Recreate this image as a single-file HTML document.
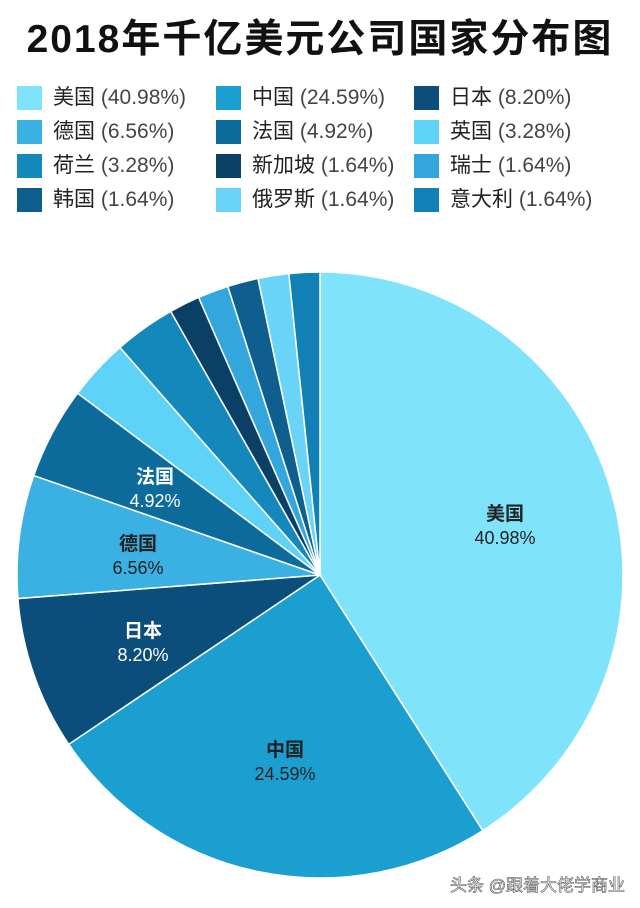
<!DOCTYPE html>
<html><head><meta charset="utf-8"><style>
body{margin:0;width:640px;height:908px;background:#fff;overflow:hidden;font-family:"Liberation Sans","Noto Sans CJK SC",sans-serif;position:relative}
.t{position:absolute;left:0;top:16px;width:640px;text-align:center;font-size:39px;line-height:48px;font-weight:bold;color:#111;letter-spacing:2px}
.lg{position:absolute;font-size:21px;color:#222;height:26px;line-height:26px;white-space:nowrap}
.lg i{position:absolute;left:0;top:1px;width:25px;height:24px}
.lg span{position:absolute;left:36px}
.lg em{font-style:normal;color:#444}
</style></head><body>
<div class="t">2018年千亿美元公司国家分布图</div>
<div id="L"></div>
<svg width="640" height="908" style="position:absolute;left:0;top:0" id="S"></svg>
<script>
var d=[["美国",40.98,"#7fe3fb"],["中国",24.59,"#1b9fd1"],["日本",8.20,"#0b4e7b"],["德国",6.56,"#3ab0e3"],["法国",4.92,"#0d6b9c"],["英国",3.28,"#5fd3f7"],["荷兰",3.28,"#1488bb"],["新加坡",1.64,"#0a3f66"],["瑞士",1.64,"#33a7dd"],["韩国",1.64,"#0e5f8e"],["俄罗斯",1.64,"#6ad4f8"],["意大利",1.64,"#1180b6"]];
var L=document.getElementById("L"),h="";
var cx=[17,216,414],ry=[85,119,153,187];
d.forEach(function(e,i){h+='<div class="lg" style="left:'+cx[i%3]+'px;top:'+ry[Math.floor(i/3)]+'px"><i style="background:'+e[2]+'"></i><span>'+e[0]+' <em>('+e[1].toFixed(2)+'%)</em></span></div>';});
L.innerHTML=h;
var s="",a=0,X=320,Y=575,R=303,tot=0;d.forEach(function(e){tot+=e[1]});
d.forEach(function(e){var b=a+e[1]/tot*2*Math.PI;
var x1=X+R*Math.sin(a),y1=Y-R*Math.cos(a),x2=X+R*Math.sin(b),y2=Y-R*Math.cos(b);
s+='<path d="M'+X+' '+Y+'L'+x1+' '+y1+'A'+R+' '+R+' 0 '+((b-a)>Math.PI?1:0)+' 1 '+x2+' '+y2+'Z" fill="'+e[2]+'" stroke="#fff" stroke-width="1.5"/>';a=b;});
var lb=[["美国","40.98%",505,"#222"],["中国","24.59%",285,"#222"],["日本","8.20%",143,"#fff"],["德国","6.56%",138,"#222"],["法国","4.92%",155,"#fff"]];
var ly=[520,756,637,550,483];
lb.forEach(function(e,i){s+='<text x="'+e[2]+'" y="'+ly[i]+'" text-anchor="middle" font-size="19" font-weight="bold" fill="'+e[3]+'" font-family="Liberation Sans,Noto Sans CJK SC,sans-serif">'+e[0]+'</text><text x="'+e[2]+'" y="'+(ly[i]+24)+'" text-anchor="middle" font-size="18" fill="'+e[3]+'" font-family="Liberation Sans,sans-serif">'+e[1]+'</text>';});
s+='<text x="625" y="891" text-anchor="end" font-size="17" fill="#fff" stroke="#555" stroke-width="0.6" font-family="Liberation Sans,Noto Sans CJK SC,sans-serif">头条 @跟着大佬学商业</text>';
document.getElementById("S").innerHTML=s;
</script>
</body></html>
